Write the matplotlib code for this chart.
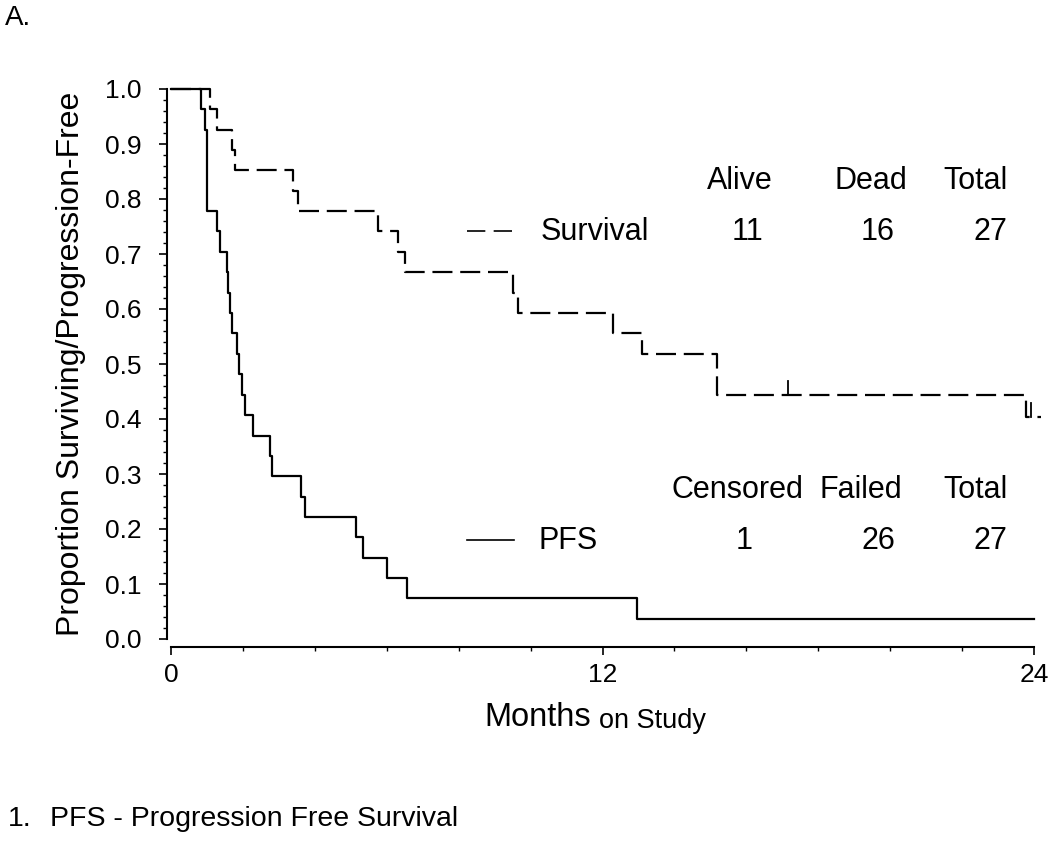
import numpy as np
import matplotlib
matplotlib.use('Agg')
import matplotlib.pyplot as plt
from matplotlib.ticker import MultipleLocator

plt.rcParams['font.family'] = ['Liberation Sans', 'DejaVu Sans']

# PFS - step times (months) and proportion after each step
pfs_t = [0, 0.84, 0.95, 1.0, 1.28, 1.36, 1.56, 1.59, 1.64, 1.70, 1.84, 1.89, 1.98,
         2.06, 2.28, 2.76, 2.81, 3.62, 3.73, 5.15, 5.35, 6.02, 6.55, 12.95]
pfs_s = [1.0, 0.963, 0.926, 0.778, 0.741, 0.704, 0.667, 0.630, 0.593, 0.556, 0.519,
         0.481, 0.444, 0.407, 0.370, 0.333, 0.296, 0.259, 0.222, 0.185, 0.148,
         0.111, 0.074, 0.037]
pfs_end = 24.0

# overall survival
os_t = [0, 1.09, 1.28, 1.70, 1.78, 3.40, 3.54, 5.77, 6.30, 6.52, 9.50, 9.64,
        12.28, 13.09, 15.18, 23.79]
os_s = [1.0, 0.963, 0.926, 0.889, 0.852, 0.815, 0.778, 0.741, 0.704, 0.667,
        0.630, 0.593, 0.556, 0.519, 0.444, 0.404]
os_end = 24.2
os_cens_t = [17.16, 23.92]
os_cens_s = [0.444, 0.404]

W, H = 1050, 841
fig = plt.figure(figsize=(W / 100, H / 100), dpi=100)
ax = fig.add_axes([171 / W, 1 - 639 / H, 863 / W, 550 / H])

ax.step(pfs_t + [pfs_end], pfs_s + [pfs_s[-1]], where='post', color='black',
        lw=1.6, clip_on=False)
ax.step(os_t + [os_end], os_s + [os_s[-1]], where='post', color='black',
        lw=1.6, dashes=(9, 3.5), clip_on=False)
# censor ticks
for t, s in zip(os_cens_t, os_cens_s):
    ax.plot([t, t], [s, s + 0.025], color='black', lw=1.3, clip_on=False)

ax.set_xlim(0, 24)
ax.set_ylim(0, 1)
ax.spines['top'].set_visible(False)
ax.spines['right'].set_visible(False)
ax.spines['left'].set_position(('outward', 3))
ax.spines['bottom'].set_position(('outward', 6))
ax.spines['left'].set_linewidth(1.5)
ax.spines['bottom'].set_linewidth(1.5)

ax.set_xticks([0, 12, 24])
ax.xaxis.set_minor_locator(MultipleLocator(2))
ax.set_yticks(np.arange(0, 1.01, 0.1))
ax.set_yticklabels(['%.1f' % v for v in np.arange(0, 1.01, 0.1)])
ax.yaxis.set_minor_locator(MultipleLocator(0.02))
ax.tick_params(which='major', direction='out', length=6, width=1.2, labelsize=19, pad=12)
ax.tick_params(which='minor', direction='out', length=3, width=1)
ax.tick_params(axis='x', which='major', pad=5)

ax.set_ylabel('Proportion Surviving/Progression-Free', fontsize=23, labelpad=14)

def ft(x, y, s, **kw):
    fig.text(x / W, 1 - y / H, s, va='center', **kw)

ft(591, 718, 'Months', fontsize=23.5, ha='right')
ft(599, 721, 'on Study', fontsize=19.5, ha='left')

ft(5, 18, 'A.', fontsize=20)
ft(8, 819, '1.', fontsize=20.5)
ft(50, 819, 'PFS - Progression Free Survival', fontsize=20.5)

# legend tables
ft(740, 181, 'Alive', fontsize=22, ha='center')
ft(871, 181, 'Dead', fontsize=22, ha='center')
ft(975, 181, 'Total', fontsize=22, ha='center')
ft(595, 232, 'Survival', fontsize=22, ha='center')
ft(763, 232, '11', fontsize=22, ha='right')
ft(895, 232, '16', fontsize=22, ha='right')
ft(1007, 232, '27', fontsize=22, ha='right')
fig.add_artist(plt.Line2D([467 / W, 514 / W], [1 - 231 / H, 1 - 231 / H],
                          color='black', lw=1.2, dashes=(11, 5)))

ft(737, 490, 'Censored', fontsize=22, ha='center')
ft(861, 490, 'Failed', fontsize=22, ha='center')
ft(975, 490, 'Total', fontsize=22, ha='center')
ft(568, 541, 'PFS', fontsize=22, ha='center')
ft(753, 541, '1', fontsize=22, ha='right')
ft(895, 541, '26', fontsize=22, ha='right')
ft(1007, 541, '27', fontsize=22, ha='right')
fig.add_artist(plt.Line2D([467 / W, 514 / W], [1 - 540 / H, 1 - 540 / H],
                          color='black', lw=1.2))

fig.savefig('out.png', dpi=100)
